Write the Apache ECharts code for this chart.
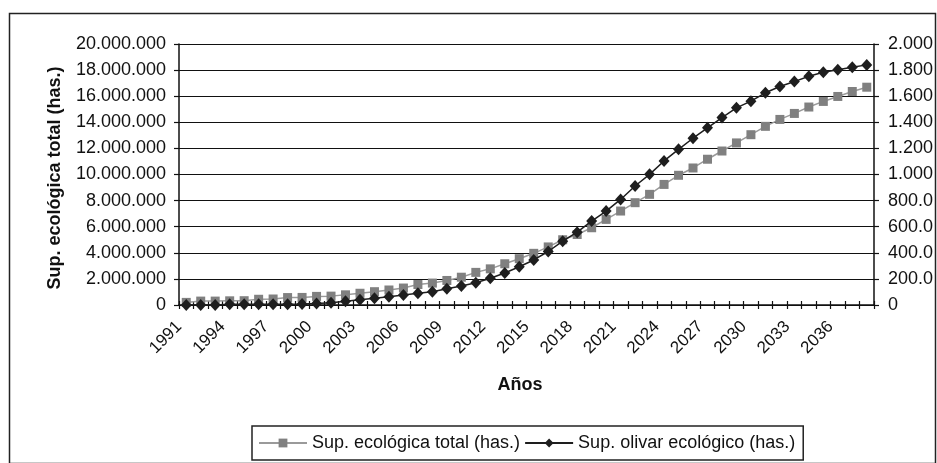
<!DOCTYPE html>
<html>
<head>
<meta charset="utf-8">
<script src="https://cdn.jsdelivr.net/npm/echarts@6/dist/echarts.min.js"></script>
<style>
html,body{margin:0;padding:0;background:#fff;}
#c{width:937px;height:463px;}
</style>
</head>
<body>
<div id="c"></div>
<script>
// Categories (years)
const years = [];
for (let y = 1991; y <= 2038; y++) years.push(String(y));

// Sup. ecológica total (has.) — left axis
const supEcologicaTotal = [
  200000, 300000, 300000, 320000, 330000, 440000, 460000, 570000, 580000, 660000,
  680000, 780000, 900000, 1020000, 1150000, 1300000, 1570000, 1680000, 1880000, 2130000,
  2500000, 2770000, 3160000, 3550000, 3960000, 4450000, 5000000, 5400000, 5920000, 6560000,
  7200000, 7840000, 8480000, 9240000, 9940000, 10500000, 11170000, 11800000, 12420000, 13050000,
  13690000, 14220000, 14680000, 15170000, 15600000, 15980000, 16360000, 16690000
];

// Sup. olivar ecológico (has.) — right axis
const supOlivarEcologico = [
  0, 0, 0, 5000, 5000, 6000, 6000, 6000, 8000, 12000,
  17000, 28000, 40000, 52000, 64000, 77000, 90000, 102000, 124000, 146000,
  171000, 205000, 245000, 293000, 345000, 410000, 489000, 558000, 643000, 720000,
  809000, 912000, 1001000, 1104000, 1193000, 1278000, 1358000, 1436000, 1511000, 1562000,
  1626000, 1674000, 1712000, 1753000, 1784000, 1802000, 1822000, 1840000
];

const seriesNames = ['Sup. ecológica total (has.)', 'Sup. olivar ecológico (has.)'];
const leftAxisTitle = 'Sup. ecológica total (has.)';
const xAxisTitle = 'Años';

function fmt(v) {
  return String(Math.round(v)).replace(/\B(?=(\d{3})+(?!\d))/g, '.');
}

const FONT = '"Liberation Sans", Arial, sans-serif';
const chart = echarts.init(document.getElementById('c'), null, {renderer: 'canvas'});

chart.setOption({
  animation: false,
  backgroundColor: '#fff',
  textStyle: {fontFamily: FONT},
  grid: {left: 179, top: 44, width: 695, height: 261, containLabel: false, outerBoundsMode: 'none'},
  xAxis: [
    {
      type: 'category', data: years, boundaryGap: true, position: 'bottom',
      axisLine: {show: true, lineStyle: {color: '#111', width: 1.5}},
      axisTick: {show: true, interval: 0, length: 4, inside: false, lineStyle: {color: '#111', width: 1.2}},
      axisLabel: {interval: 2, rotate: 45, fontSize: 17, color: '#111', fontFamily: FONT, margin: 12, padding: [0, 10, 0, 0]},
      splitLine: {show: false}
    },
    {
      type: 'category', data: years, boundaryGap: true, position: 'bottom',
      axisLine: {show: false},
      axisTick: {show: true, interval: 0, length: 4, inside: true, lineStyle: {color: '#111', width: 1.2}},
      axisLabel: {show: false},
      splitLine: {show: false}
    }
  ],
  yAxis: [
    {
      type: 'value', min: 0, max: 20000000, interval: 2000000, position: 'left',
      axisLine: {show: true, lineStyle: {color: '#111', width: 1.5}},
      axisTick: {show: true, length: 5, lineStyle: {color: '#111', width: 1.2}},
      axisLabel: {formatter: fmt, fontSize: 18, color: '#111', fontFamily: FONT, margin: 13},
      splitLine: {show: true, lineStyle: {color: '#111', width: 1.2}}
    },
    {
      type: 'value', min: 0, max: 2000000, interval: 200000, position: 'right',
      axisLine: {show: true, lineStyle: {color: '#111', width: 1.5}},
      axisTick: {show: true, length: 5, lineStyle: {color: '#111', width: 1.2}},
      axisLabel: {formatter: fmt, fontSize: 18, color: '#111', fontFamily: FONT, margin: 14},
      splitLine: {show: false}
    }
  ],
  legend: {
    left: 252, top: 426,
    padding: [8, 8, 8, 6],
    itemGap: 4,
    itemWidth: 48, itemHeight: 11,
    borderColor: '#222', borderWidth: 1.5,
    textStyle: {fontSize: 18, color: '#111', fontFamily: FONT},
    data: seriesNames
  },
  series: [
    {
      name: seriesNames[0], type: 'line', data: supEcologicaTotal,
      xAxisIndex: 0, yAxisIndex: 0,
      symbol: 'rect', symbolSize: 9, showAllSymbol: true,
      itemStyle: {color: '#808080'},
      lineStyle: {color: '#9a9a9a', width: 1.5},
      z: 2
    },
    {
      name: seriesNames[1], type: 'line', data: supOlivarEcologico,
      xAxisIndex: 0, yAxisIndex: 1,
      symbol: 'diamond', symbolSize: [11, 12], showAllSymbol: true,
      itemStyle: {color: '#1e1e1e'},
      lineStyle: {color: '#1e1e1e', width: 1.5},
      z: 3
    }
  ],
  graphic: [
    {
      type: 'rect', left: 933, top: 0, z: 100, silent: true,
      shape: {x: 0, y: 0, width: 6, height: 463},
      style: {fill: '#fff', stroke: 'none'}
    },
    {
      type: 'rect', left: 7, top: 11, z: 101, silent: true,
      shape: {x: 0, y: 0, width: 926, height: 450},
      style: {fill: 'none', stroke: '#222', lineWidth: 1.5}
    },
    {
      type: 'text', x: 55, y: 178, rotation: Math.PI / 2,
      style: {text: leftAxisTitle, font: 'bold 18px ' + FONT, fill: '#111', align: 'center', verticalAlign: 'middle'}
    },
    {
      type: 'text', x: 520, y: 385,
      style: {text: xAxisTitle, font: 'bold 18px ' + FONT, fill: '#111', align: 'center', verticalAlign: 'middle'}
    }
  ]
});
</script>
</body>
</html>
